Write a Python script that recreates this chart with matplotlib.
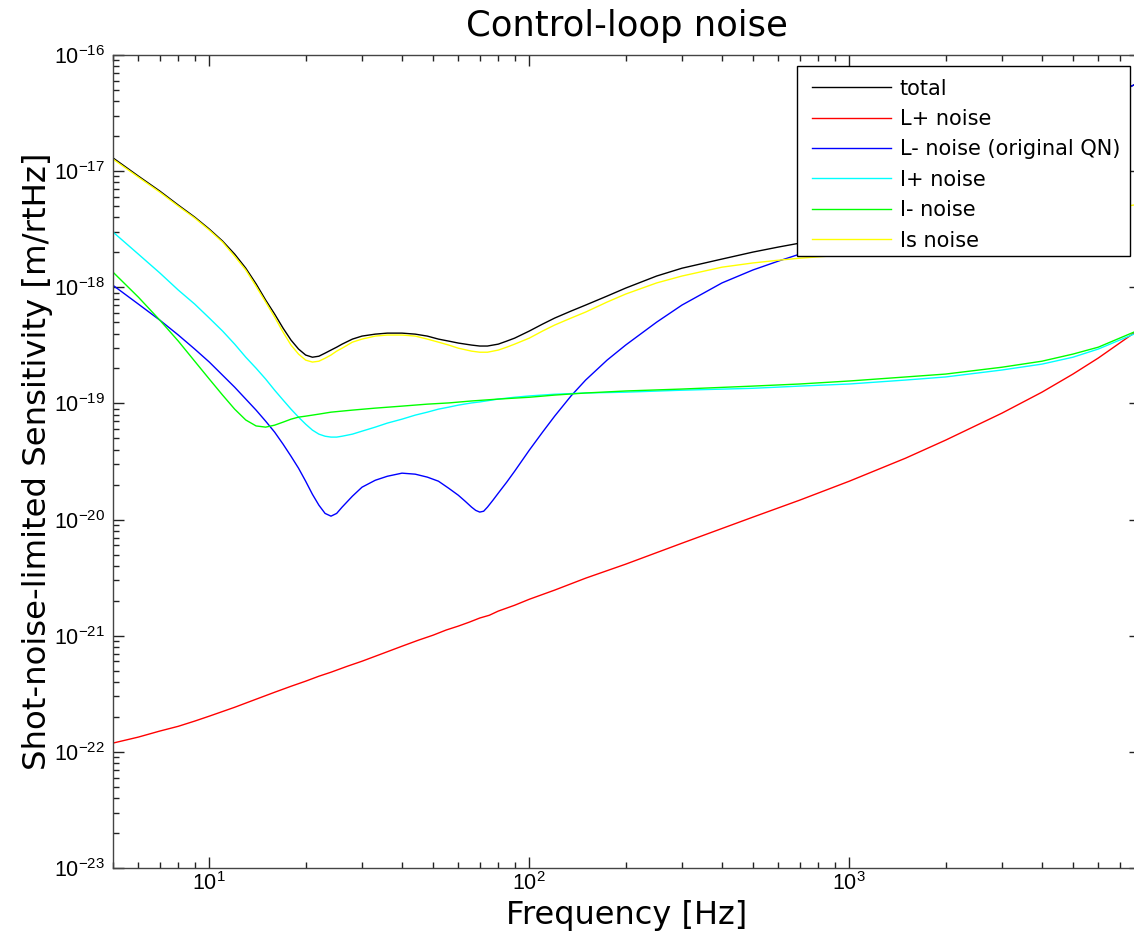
import matplotlib
matplotlib.use("Agg")
import matplotlib.pyplot as plt
from matplotlib.ticker import FixedLocator, NullFormatter, LogFormatterSciNotation
from matplotlib.patches import Rectangle

# ---------------- data ----------------
freq_total = [5, 6, 7, 8, 9, 10, 11, 12, 13, 14, 15, 16, 17, 18, 19, 20, 21, 22, 23, 24,
              25, 26, 28, 30, 33, 36, 40, 44, 48, 52, 56, 60, 66, 70, 74, 80, 85, 90, 100,
              110, 120, 135, 150, 175, 200, 250, 300, 400, 500, 600, 700, 850, 1000, 1500,
              2000, 3000, 4000, 5000, 6000, 7750]
total = [1.30e-17, 9.07e-18, 6.74e-18, 5.10e-18, 4.02e-18, 3.17e-18, 2.50e-18, 1.93e-18,
         1.46e-18, 1.07e-18, 7.76e-19, 5.88e-19, 4.45e-19, 3.51e-19, 2.94e-19, 2.61e-19,
         2.50e-19, 2.55e-19, 2.71e-19, 2.88e-19, 3.05e-19, 3.24e-19, 3.58e-19, 3.80e-19,
         3.95e-19, 4.03e-19, 4.03e-19, 3.95e-19, 3.80e-19, 3.58e-19, 3.44e-19, 3.31e-19,
         3.18e-19, 3.12e-19, 3.12e-19, 3.24e-19, 3.44e-19, 3.65e-19, 4.20e-19, 4.82e-19,
         5.43e-19, 6.24e-19, 7.03e-19, 8.40e-19, 9.84e-19, 1.25e-18, 1.46e-18, 1.75e-18,
         2.01e-18, 2.22e-18, 2.40e-18, 3.03e-18, 3.56e-18, 5.86e-18, 8.61e-18, 1.49e-17,
         2.24e-17, 3.07e-17, 3.94e-17, 5.52e-17]

freq_l_plus = [5, 6, 7, 8, 9, 10, 12, 14, 16, 18, 20, 22, 24, 27, 30, 35, 40, 45, 50, 55,
               60, 65, 70, 75, 80, 90, 100, 120, 150, 200, 300, 500, 700, 1000, 1500, 2000,
               3000, 4000, 5000, 6000, 7750]
l_plus = [1.19e-22, 1.34e-22, 1.51e-22, 1.66e-22, 1.84e-22, 2.03e-22, 2.42e-22, 2.84e-22,
          3.26e-22, 3.67e-22, 4.06e-22, 4.48e-22, 4.85e-22, 5.46e-22, 6.03e-22, 7.07e-22,
          8.12e-22, 9.15e-22, 1.01e-21, 1.12e-21, 1.21e-21, 1.31e-21, 1.42e-21, 1.50e-21,
          1.63e-21, 1.83e-21, 2.06e-21, 2.47e-21, 3.13e-21, 4.13e-21, 6.26e-21, 1.05e-20,
          1.47e-20, 2.14e-20, 3.38e-20, 4.83e-20, 8.25e-20, 1.25e-19, 1.79e-19, 2.46e-19,
          4.03e-19]

freq_l_minus = [5, 6, 7, 8, 9, 10, 11, 12, 13, 14, 15, 16, 17, 18, 19, 20, 21, 22, 23, 24,
                25, 26, 28, 30, 33, 36, 40, 44, 48, 52, 56, 60, 63, 66, 68, 70, 72, 74, 77,
                80, 85, 90, 100, 110, 120, 135, 150, 175, 200, 250, 300, 400, 500, 600, 700,
                850, 1000, 1500, 2000, 3000, 4000, 5000, 6000, 7750]
l_minus = [1.04e-18, 7.17e-19, 5.22e-19, 3.88e-19, 2.94e-19, 2.27e-19, 1.75e-19, 1.38e-19,
           1.09e-19, 8.76e-20, 7.03e-20, 5.66e-20, 4.46e-20, 3.51e-20, 2.77e-20, 2.14e-20,
           1.65e-20, 1.33e-20, 1.13e-20, 1.07e-20, 1.13e-20, 1.28e-20, 1.59e-20, 1.90e-20,
           2.18e-20, 2.36e-20, 2.51e-20, 2.46e-20, 2.32e-20, 2.14e-20, 1.86e-20, 1.62e-20,
           1.44e-20, 1.28e-20, 1.20e-20, 1.16e-20, 1.18e-20, 1.28e-20, 1.47e-20, 1.69e-20,
           2.10e-20, 2.61e-20, 3.96e-20, 5.66e-20, 7.77e-20, 1.16e-19, 1.59e-19, 2.36e-19,
           3.18e-19, 5.01e-19, 7.03e-19, 1.09e-18, 1.41e-18, 1.68e-18, 1.93e-18, 2.40e-18,
           2.99e-18, 5.42e-18, 8.22e-18, 1.46e-17, 2.21e-17, 3.04e-17, 3.94e-17, 5.52e-17]

freq_i_plus = [5, 6, 7, 8, 9, 10, 11, 12, 13, 14, 15, 16, 17, 18, 19, 20, 21, 22, 23, 24,
               25, 26, 28, 30, 33, 36, 40, 44, 48, 52, 56, 60, 66, 70, 80, 90, 100, 120, 150,
               200, 300, 500, 700, 1000, 1500, 2000, 3000, 4000, 5000, 6000, 7750]
i_plus = [2.99e-18, 1.93e-18, 1.33e-18, 9.46e-19, 7.17e-19, 5.43e-19, 4.20e-19, 3.24e-19,
          2.50e-19, 2.01e-19, 1.62e-19, 1.30e-19, 1.07e-19, 8.93e-20, 7.62e-20, 6.63e-20,
          5.89e-20, 5.44e-20, 5.22e-20, 5.13e-20, 5.13e-20, 5.22e-20, 5.44e-20, 5.77e-20,
          6.25e-20, 6.77e-20, 7.32e-20, 7.93e-20, 8.41e-20, 8.93e-20, 9.29e-20, 9.67e-20,
          1.01e-19, 1.03e-19, 1.09e-19, 1.13e-19, 1.16e-19, 1.20e-19, 1.23e-19, 1.25e-19,
          1.30e-19, 1.35e-19, 1.41e-19, 1.47e-19, 1.59e-19, 1.69e-19, 1.94e-19, 2.18e-19,
          2.50e-19, 2.94e-19, 3.95e-19]

freq_i_minus = [5, 6, 7, 8, 9, 10, 11, 12, 13, 14, 15, 16, 17, 18, 19, 20, 22, 24, 28, 33,
                40, 48, 56, 66, 80, 100, 120, 150, 200, 300, 500, 700, 1000, 1500, 2000,
                3000, 4000, 5000, 6000, 7750]
i_minus = [1.35e-18, 8.23e-19, 5.22e-19, 3.44e-19, 2.31e-19, 1.62e-19, 1.18e-19, 8.93e-20,
           7.20e-20, 6.40e-20, 6.25e-20, 6.50e-20, 6.90e-20, 7.32e-20, 7.62e-20, 7.77e-20,
           8.09e-20, 8.41e-20, 8.76e-20, 9.11e-20, 9.48e-20, 9.86e-20, 1.01e-19, 1.05e-19,
           1.09e-19, 1.13e-19, 1.18e-19, 1.23e-19, 1.28e-19, 1.33e-19, 1.41e-19, 1.47e-19,
           1.56e-19, 1.69e-19, 1.79e-19, 2.05e-19, 2.31e-19, 2.66e-19, 3.05e-19, 4.11e-19]

freq_i_s = freq_total
i_s = [1.27e-17, 8.89e-18, 6.60e-18, 5.00e-18, 3.95e-18, 3.11e-18, 2.45e-18, 1.85e-18,
       1.41e-18, 1.02e-18, 7.46e-19, 5.54e-19, 4.11e-19, 3.18e-19, 2.66e-19, 2.36e-19,
       2.27e-19, 2.31e-19, 2.45e-19, 2.61e-19, 2.82e-19, 2.99e-19, 3.37e-19, 3.58e-19,
       3.80e-19, 3.88e-19, 3.88e-19, 3.80e-19, 3.58e-19, 3.37e-19, 3.18e-19, 2.99e-19,
       2.82e-19, 2.76e-19, 2.76e-19, 2.88e-19, 3.05e-19, 3.24e-19, 3.65e-19, 4.20e-19,
       4.73e-19, 5.43e-19, 6.12e-19, 7.46e-19, 8.74e-19, 1.09e-18, 1.25e-18, 1.49e-18,
       1.62e-18, 1.71e-18, 1.78e-18, 1.85e-18, 1.93e-18, 2.22e-18, 2.55e-18, 3.11e-18,
       3.64e-18, 4.10e-18, 4.53e-18, 5.11e-18]

labels = ["total", "L+ noise", "L- noise (original QN)", "I+ noise", "I- noise", "Is noise"]
colors = ["#000000", "#ff0000", "#0000ff", "#00ffff", "#00ff00", "#ffff00"]
title = "Control-loop noise"
xlabel = "Frequency [Hz]"
ylabel = "Shot-noise-limited Sensitivity [m/rtHz]"
x_major = [10, 100, 1000]
y_major = [1e-23, 1e-22, 1e-21, 1e-20, 1e-19, 1e-18, 1e-17, 1e-16]

# ---------------- figure ----------------
plt.rcParams['font.family'] = ['DejaVu Sans']
plt.rcParams['mathtext.default'] = 'regular'

W, H = 1134, 946
fig = plt.figure(figsize=(W / 100, H / 100), dpi=100)
left, right, top, bottom = 113, 1140, 55, 868
ax = fig.add_axes([left / W, 1 - bottom / H, (right - left) / W, (bottom - top) / H])

data = [(freq_total, total), (freq_l_plus, l_plus), (freq_l_minus, l_minus),
        (freq_i_plus, i_plus), (freq_i_minus, i_minus), (freq_i_s, i_s)]
for (fx, fy), lab, col in zip(data, labels, colors):
    ax.plot(fx, fy, color=col, lw=1.0, label=lab)

ax.set_xscale('log')
ax.set_yscale('log')
ax.set_xlim(5, 8100)
ax.set_ylim(1e-23, 1e-16)

ax.xaxis.set_major_locator(FixedLocator(x_major))
ax.yaxis.set_major_locator(FixedLocator(y_major))
ax.xaxis.set_major_formatter(LogFormatterSciNotation())
ax.yaxis.set_major_formatter(LogFormatterSciNotation())
xminor = [m * 10 ** e for e in range(0, 4) for m in range(2, 10) if 5 <= m * 10 ** e <= 8100]
yminor = [m * 10.0 ** e for e in range(-23, -16) for m in range(2, 10)]
ax.xaxis.set_minor_locator(FixedLocator(xminor))
ax.yaxis.set_minor_locator(FixedLocator(yminor))
ax.xaxis.set_minor_formatter(NullFormatter())
ax.yaxis.set_minor_formatter(NullFormatter())

ax.tick_params(which='both', direction='in', top=True, right=True, colors='#222222',
               labelcolor='black', labelsize=15.5)
ax.tick_params(which='major', length=8, width=1)
ax.tick_params(which='minor', length=4.3, width=1)
ax.tick_params(axis='y', pad=5.5)
ax.tick_params(axis='x', pad=3)
for lab in ax.get_xticklabels() + ax.get_yticklabels():
    lab.set_fontfamily('Liberation Sans')
for s in ax.spines.values():
    s.set_color('#444444')
    s.set_linewidth(1.0)

ax.set_title(title, fontsize=25.5, pad=13.5)
ax.set_xlabel(xlabel, fontsize=23)
ax.set_ylabel(ylabel, fontsize=23.3)
ax.xaxis.set_label_coords(0.5, -0.0394)
ax.yaxis.set_label_coords(-0.0585, 0.5)

# legend: frame drawn as in the reference, entries placed inside it
fig.patches.append(Rectangle((797 / W, 1 - 256 / H), (1130 - 797) / W, (256 - 66) / H,
                             transform=fig.transFigure, facecolor='white',
                             edgecolor='black', linewidth=1.0, zorder=4))
fs = 15
fs_px = fs * 100 / 72
leg = fig.legend(loc='upper left', bbox_to_anchor=(812 / W, 1 - 78.5 / H),
                 bbox_transform=fig.transFigure, fontsize=fs, frameon=False,
                 handlelength=79 / fs_px, handletextpad=9 / fs_px,
                 labelspacing=0.5, borderpad=0, borderaxespad=0)
leg.set_zorder(5)

fig.savefig('out.png', dpi=100)
